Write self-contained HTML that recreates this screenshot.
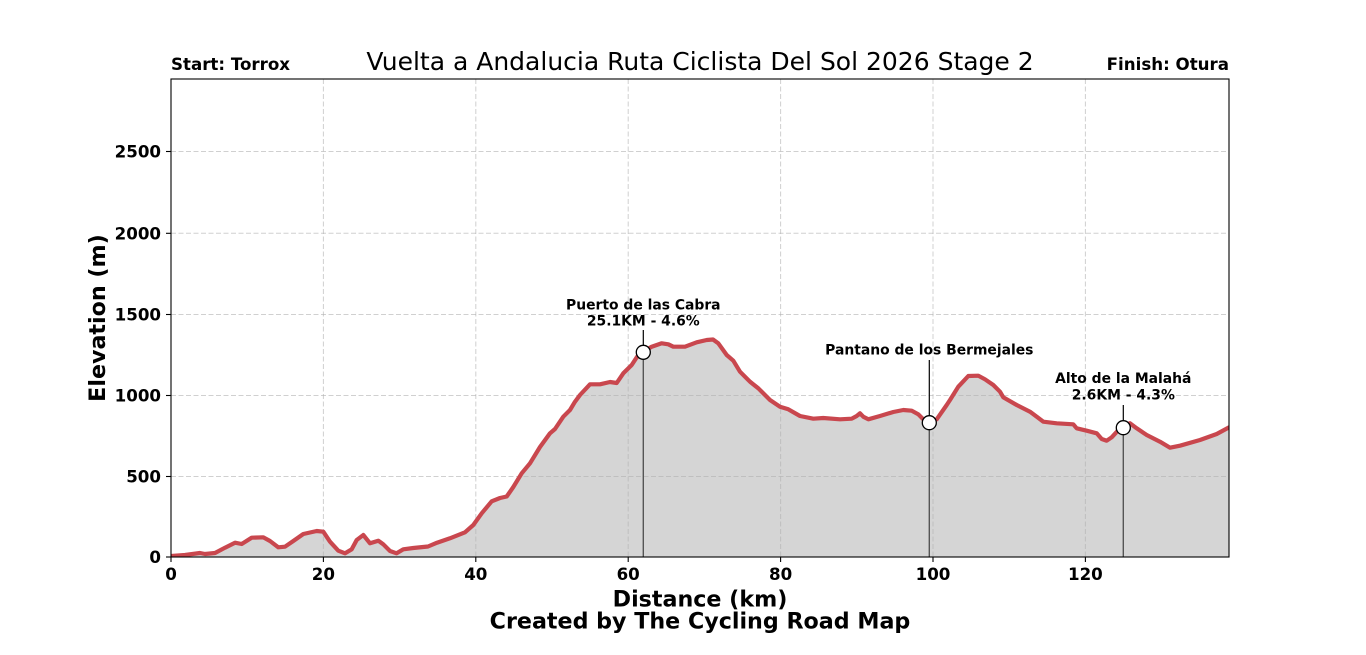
<!DOCTYPE html>
<html><head><meta charset="utf-8"><style>
html,body{margin:0;padding:0;background:#fff;}
svg{display:block;font-family:"DejaVu Sans","Liberation Sans",sans-serif;}
</style></head><body>
<svg width="1366" height="655" viewBox="0 0 1366 655" xmlns="http://www.w3.org/2000/svg">
<defs><clipPath id="ax"><rect x="171" y="79" width="1058" height="478"/></clipPath></defs>
<rect width="1366" height="655" fill="#fff"/>
<g clip-path="url(#ax)">
<polygon fill="#d5d5d5" points="171,557 171.5,556 185,555 200,553 205,554 215,553 225,547.7 235,542.7 241.7,544 251.7,537.7 263.3,537.3 270,541 278.3,547.3 285,546.7 293.3,541 303.3,534 316.7,531 323.3,531.7 330,541.7 338.3,550.7 345,553.3 351.7,549.3 356.7,540 363.3,535 370,543.3 378.3,540.7 383.3,544.3 390,551 396.5,553.3 403.3,549.3 413.3,548 428,546.5 437,542.7 450,538.3 465,532.3 473.3,525 481.7,513.3 491.7,501.3 500,498 506.7,496.5 513.3,487 521.7,473.3 530,463.3 540,447 550,433.3 555,429 563.3,416.7 570,410 575,401.7 580,395 590,384.3 600,384.3 610,382 616.7,383 623.3,373.3 631.7,365 638.3,355 643.3,351.7 651.7,346.7 661.7,343.3 668.3,344.3 673.3,346.7 685,346.7 696.7,342.3 706.7,340 713,339.5 718.3,343.3 726.7,355 733.3,360.7 740,371.7 750,381.7 758.3,388.3 770,400 780,406.7 788.3,409.3 800,416 813.3,418.7 823.3,418 840,419.3 851.7,418.7 856.7,416 860,413.3 863.3,416.7 868.3,419.3 880,416 893.3,412 903.3,410 911.7,410.7 918.3,414.3 924,420 929.3,422.3 936.7,419.3 946.7,405 950,400 958.3,386.7 968.3,376 978.3,375.7 985,379.3 993.3,385 1000,391.7 1003.3,397.3 1016.7,405 1030,411.7 1036.7,416.7 1043.3,421.7 1056.7,423.3 1073.3,424.3 1076.7,428.3 1086.7,430.7 1096.7,433.3 1101.7,439 1106.7,440.7 1111.7,437.3 1120,428.3 1125,425 1130,423.3 1136.7,428.3 1146.7,435 1160,441.7 1170,447.7 1180,445.7 1200,440 1216.7,434 1229,427.3 1229,557"/>
<g stroke="#b0b0b0" stroke-opacity="0.6" stroke-width="1" stroke-dasharray="5,2.5" fill="none">
<line x1="323.4" y1="79" x2="323.4" y2="557"/>
<line x1="475.8" y1="79" x2="475.8" y2="557"/>
<line x1="628.2" y1="79" x2="628.2" y2="557"/>
<line x1="780.6" y1="79" x2="780.6" y2="557"/>
<line x1="933" y1="79" x2="933" y2="557"/>
<line x1="1085.4" y1="79" x2="1085.4" y2="557"/>
<line x1="171" y1="476.5" x2="1229" y2="476.5"/>
<line x1="171" y1="395.5" x2="1229" y2="395.5"/>
<line x1="171" y1="314.5" x2="1229" y2="314.5"/>
<line x1="171" y1="233.3" x2="1229" y2="233.3"/>
<line x1="171" y1="151.5" x2="1229" y2="151.5"/>
</g>
<polyline fill="none" stroke="#c9474e" stroke-width="4.2" stroke-linejoin="round" stroke-linecap="round" points="171.5,556 185,555 200,553 205,554 215,553 225,547.7 235,542.7 241.7,544 251.7,537.7 263.3,537.3 270,541 278.3,547.3 285,546.7 293.3,541 303.3,534 316.7,531 323.3,531.7 330,541.7 338.3,550.7 345,553.3 351.7,549.3 356.7,540 363.3,535 370,543.3 378.3,540.7 383.3,544.3 390,551 396.5,553.3 403.3,549.3 413.3,548 428,546.5 437,542.7 450,538.3 465,532.3 473.3,525 481.7,513.3 491.7,501.3 500,498 506.7,496.5 513.3,487 521.7,473.3 530,463.3 540,447 550,433.3 555,429 563.3,416.7 570,410 575,401.7 580,395 590,384.3 600,384.3 610,382 616.7,383 623.3,373.3 631.7,365 638.3,355 643.3,351.7 651.7,346.7 661.7,343.3 668.3,344.3 673.3,346.7 685,346.7 696.7,342.3 706.7,340 713,339.5 718.3,343.3 726.7,355 733.3,360.7 740,371.7 750,381.7 758.3,388.3 770,400 780,406.7 788.3,409.3 800,416 813.3,418.7 823.3,418 840,419.3 851.7,418.7 856.7,416 860,413.3 863.3,416.7 868.3,419.3 880,416 893.3,412 903.3,410 911.7,410.7 918.3,414.3 924,420 929.3,422.3 936.7,419.3 946.7,405 950,400 958.3,386.7 968.3,376 978.3,375.7 985,379.3 993.3,385 1000,391.7 1003.3,397.3 1016.7,405 1030,411.7 1036.7,416.7 1043.3,421.7 1056.7,423.3 1073.3,424.3 1076.7,428.3 1086.7,430.7 1096.7,433.3 1101.7,439 1106.7,440.7 1111.7,437.3 1120,428.3 1125,425 1130,423.3 1136.7,428.3 1146.7,435 1160,441.7 1170,447.7 1180,445.7 1200,440 1216.7,434 1229,427.3"/>
</g>
<!-- annotations -->
<g stroke="#555" stroke-width="1.4">
<line x1="643.3" y1="352" x2="643.3" y2="557"/>
<line x1="929.3" y1="422.5" x2="929.3" y2="557"/>
<line x1="1123.3" y1="427.5" x2="1123.3" y2="557"/>
</g>
<g stroke="#000" stroke-width="1.2">
<line x1="643.3" y1="330" x2="643.3" y2="345"/>
<line x1="929.3" y1="360" x2="929.3" y2="415.5"/>
<line x1="1123.3" y1="405" x2="1123.3" y2="420.5"/>
</g>
<g fill="#fff" stroke="#000" stroke-width="1.3">
<circle cx="643.3" cy="352.3" r="7"/>
<circle cx="929.3" cy="422.7" r="7"/>
<circle cx="1123.3" cy="427.7" r="7"/>
</g>
<g font-weight="bold" font-size="13.9" text-anchor="middle" fill="#000">
<text x="643.3" y="309.5">Puerto de las Cabra</text>
<text x="643.3" y="325.5">25.1KM - 4.6%</text>
<text x="929.3" y="354.5">Pantano de los Bermejales</text>
<text x="1123.3" y="383">Alto de la Malahá</text>
<text x="1123.3" y="399.5">2.6KM - 4.3%</text>
</g>
<!-- axes frame -->
<rect x="171" y="79" width="1058" height="478" fill="none" stroke="#000" stroke-width="1.1"/>
<g stroke="#000" stroke-width="1.1">
<line x1="171" y1="557" x2="171" y2="562"/>
<line x1="323.4" y1="557" x2="323.4" y2="562"/>
<line x1="475.8" y1="557" x2="475.8" y2="562"/>
<line x1="628.2" y1="557" x2="628.2" y2="562"/>
<line x1="780.6" y1="557" x2="780.6" y2="562"/>
<line x1="933" y1="557" x2="933" y2="562"/>
<line x1="1085.4" y1="557" x2="1085.4" y2="562"/>
<line x1="166" y1="557" x2="171" y2="557"/>
<line x1="166" y1="476.5" x2="171" y2="476.5"/>
<line x1="166" y1="395.5" x2="171" y2="395.5"/>
<line x1="166" y1="314.5" x2="171" y2="314.5"/>
<line x1="166" y1="233.3" x2="171" y2="233.3"/>
<line x1="166" y1="151.5" x2="171" y2="151.5"/>
</g>
<g font-weight="bold" font-size="16.67" fill="#000" text-anchor="middle">
<text x="171" y="580">0</text>
<text x="323.4" y="580">20</text>
<text x="475.8" y="580">40</text>
<text x="628.2" y="580">60</text>
<text x="780.6" y="580">80</text>
<text x="933" y="580">100</text>
<text x="1085.4" y="580">120</text>
</g>
<g font-weight="bold" font-size="16.67" fill="#000" text-anchor="end">
<text x="161" y="563">0</text>
<text x="161" y="482.5">500</text>
<text x="161" y="401.5">1000</text>
<text x="161" y="320.5">1500</text>
<text x="161" y="239.3">2000</text>
<text x="161" y="157.5">2500</text>
</g>
<g font-weight="bold" font-size="22.2" fill="#000" text-anchor="middle">
<text x="700" y="606.5">Distance (km)</text>
<text x="700" y="628.5">Created by The Cycling Road Map</text>
<text transform="translate(105,318) rotate(-90)" x="0" y="0">Elevation (m)</text>
</g>
<text x="700" y="70" font-size="25" text-anchor="middle" fill="#000">Vuelta a Andalucia Ruta Ciclista Del Sol 2026 Stage 2</text>
<text x="171" y="70" font-size="16.67" font-weight="bold" fill="#000">Start: Torrox</text>
<text x="1229" y="70" font-size="16.67" font-weight="bold" text-anchor="end" fill="#000">Finish: Otura</text>
</svg>
</body></html>
